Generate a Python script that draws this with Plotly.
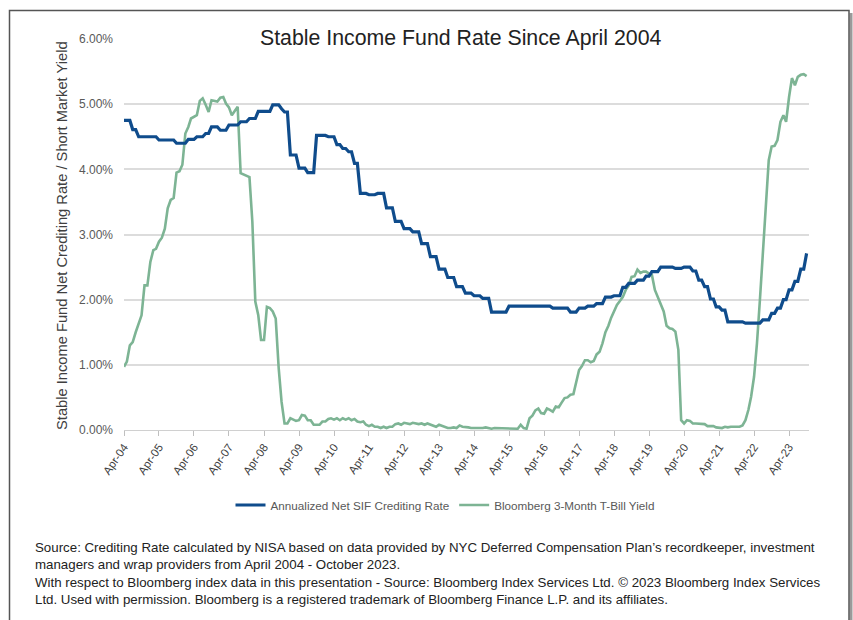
import pandas as pd
import plotly.graph_objects as go

# ---------------- data (monthly, Apr 2004 - Oct 2023) ----------------
start_month = "2004-04-01"

sif_crediting_rate = [
    4.75, 4.75, 4.75, 4.61, 4.61, 4.50, 4.50, 4.50, 4.50, 4.50, 4.50, 4.50,
    4.45, 4.45, 4.45, 4.45, 4.45, 4.45, 4.40, 4.40, 4.40, 4.40, 4.46, 4.46,
    4.46, 4.50, 4.50, 4.50, 4.55, 4.55, 4.65, 4.65, 4.65, 4.60, 4.60, 4.60,
    4.68, 4.68, 4.68, 4.68, 4.73, 4.73, 4.73, 4.78, 4.78, 4.78, 4.89, 4.89,
    4.89, 4.89, 4.89, 4.99, 4.99, 4.99, 4.93, 4.88, 4.88, 4.22, 4.22, 4.22,
    4.02, 4.02, 4.02, 3.95, 3.95, 3.95, 4.52, 4.52, 4.52, 4.52, 4.50, 4.50,
    4.50, 4.38, 4.38, 4.32, 4.32, 4.27, 4.27, 4.09, 4.09, 3.63, 3.63, 3.63,
    3.61, 3.61, 3.61, 3.63, 3.63, 3.63, 3.41, 3.41, 3.41, 3.20, 3.20, 3.20,
    3.09, 3.09, 3.09, 3.04, 3.04, 3.04, 2.86, 2.86, 2.86, 2.66, 2.66, 2.66,
    2.47, 2.47, 2.47, 2.34, 2.34, 2.34, 2.20, 2.20, 2.20, 2.10, 2.10, 2.10,
    2.06, 2.06, 2.06, 2.02, 2.02, 2.02, 1.81, 1.81, 1.81, 1.81, 1.81, 1.81,
    1.90, 1.90, 1.90, 1.90, 1.90, 1.90, 1.90, 1.90, 1.90, 1.90, 1.90, 1.90,
    1.90, 1.90, 1.90, 1.87, 1.87, 1.87, 1.87, 1.87, 1.87, 1.81, 1.81, 1.81,
    1.87, 1.87, 1.87, 1.90, 1.90, 1.90, 1.94, 1.94, 1.94, 2.04, 2.04, 2.04,
    2.06, 2.06, 2.06, 2.19, 2.19, 2.25, 2.25, 2.25, 2.30, 2.30, 2.30, 2.36,
    2.36, 2.43, 2.43, 2.43, 2.50, 2.50, 2.50, 2.50, 2.50, 2.48, 2.48, 2.48,
    2.50, 2.50, 2.50, 2.44, 2.44, 2.30, 2.30, 2.20, 2.20, 2.01, 2.01, 1.89,
    1.89, 1.84, 1.84, 1.66, 1.66, 1.66, 1.66, 1.66, 1.66, 1.64, 1.64, 1.64,
    1.64, 1.64, 1.64, 1.69, 1.69, 1.69, 1.79, 1.79, 1.87, 1.87, 2.00, 2.00,
    2.15, 2.15, 2.28, 2.28, 2.47, 2.47, 2.71,
]

tbill_3m_yield = [
    0.97, 1.05, 1.30, 1.35, 1.50, 1.62, 1.76, 2.22, 2.22, 2.58, 2.76, 2.78,
    2.89, 2.95, 3.09, 3.40, 3.53, 3.56, 3.95, 3.97, 4.07, 4.55, 4.65, 4.78,
    4.80, 4.83, 5.05, 5.09, 4.99, 4.88, 5.06, 5.05, 5.04, 5.10, 5.11, 5.01,
    4.95, 4.83, 4.90, 4.96, 3.94, 3.92, 3.89, 3.88, 3.20, 1.97, 1.76, 1.38,
    1.38, 1.89, 1.87, 1.82, 1.71, 0.95, 0.43, 0.10, 0.10, 0.18, 0.16, 0.14,
    0.15, 0.23, 0.22, 0.15, 0.15, 0.08, 0.08, 0.08, 0.13, 0.13, 0.17, 0.18,
    0.16, 0.18, 0.15, 0.18, 0.16, 0.18, 0.15, 0.17, 0.13, 0.12, 0.13, 0.08,
    0.06, 0.08, 0.05, 0.05, 0.03, 0.05, 0.03, 0.05, 0.05, 0.09, 0.10, 0.08,
    0.11, 0.10, 0.09, 0.11, 0.10, 0.09, 0.10, 0.08, 0.10, 0.08, 0.07, 0.05,
    0.08, 0.06, 0.05, 0.03, 0.03, 0.04, 0.03, 0.07, 0.05, 0.05, 0.04, 0.03,
    0.03, 0.03, 0.02, 0.03, 0.04, 0.03, 0.02, 0.03, 0.03, 0.02, 0.02, 0.02,
    0.02, 0.03, 0.02, 0.02, 0.08, 0.03, 0.02, 0.18, 0.22, 0.30, 0.33, 0.26,
    0.25, 0.33, 0.31, 0.28, 0.36, 0.35, 0.42, 0.49, 0.50, 0.54, 0.55, 0.72,
    0.92, 0.98, 1.07, 1.07, 1.04, 1.06, 1.16, 1.20, 1.33, 1.50, 1.60, 1.72,
    1.82, 1.92, 1.98, 2.04, 2.15, 2.22, 2.35, 2.36, 2.46, 2.41, 2.43, 2.43,
    2.40, 2.38, 2.15, 2.05, 1.94, 1.82, 1.60, 1.56, 1.55, 1.51, 1.23, 0.15,
    0.10, 0.15, 0.14, 0.10, 0.10, 0.10, 0.10, 0.09, 0.06, 0.06, 0.06, 0.04,
    0.03, 0.03, 0.05, 0.04, 0.05, 0.05, 0.05, 0.05, 0.07, 0.15, 0.31, 0.51,
    0.82, 1.33, 2.00, 2.71, 3.48, 4.14, 4.35, 4.36, 4.45, 4.73, 4.83, 4.73,
    5.11, 5.40, 5.29, 5.42, 5.45, 5.46, 5.43,
]

tick_dates = ["2004-04-01", "2005-04-01", "2006-04-01", "2007-04-01", "2008-04-01",
              "2009-04-01", "2010-04-01", "2011-04-01", "2012-04-01", "2013-04-01",
              "2014-04-01", "2015-04-01", "2016-04-01", "2017-04-01", "2018-04-01",
              "2019-04-01", "2020-04-01", "2021-04-01", "2022-04-01", "2023-04-01"]
tick_labels = ["Apr-04", "Apr-05", "Apr-06", "Apr-07", "Apr-08", "Apr-09", "Apr-10",
               "Apr-11", "Apr-12", "Apr-13", "Apr-14", "Apr-15", "Apr-16", "Apr-17",
               "Apr-18", "Apr-19", "Apr-20", "Apr-21", "Apr-22", "Apr-23"]

y_tick_values = [0, 1, 2, 3, 4, 5, 6]
y_tick_labels = ["0.00%", "1.00%", "2.00%", "3.00%", "4.00%", "5.00%", "6.00%"]

series_names = ["Annualized Net SIF Crediting Rate", "Bloomberg 3-Month T-Bill Yield"]

title_text = "Stable Income Fund Rate Since April 2004"
y_title_text = "Stable Income Fund Net Crediting Rate / Short Market Yield"
footer_text = (
    "Source: Crediting Rate calculated by NISA based on data provided by NYC Deferred "
    "Compensation Plan\u2019s recordkeeper, investment<br>"
    "managers and wrap providers from April 2004 - October 2023.<br>"
    "With respect to Bloomberg index data in this presentation - Source: Bloomberg Index "
    "Services Ltd. \u00a9 2023 Bloomberg Index Services<br>"
    "Ltd. Used with permission. Bloomberg is a registered trademark of Bloomberg Finance "
    "L.P. and its affiliates."
)

# ---------------- figure ----------------
dates = pd.date_range(start_month, periods=len(sif_crediting_rate), freq="MS")

W, H = 853, 620
L, R, T, B = 124, 809, 39, 430   # plot area in pixels


def px_x(p):
    return (p - L) / (R - L)


def px_y(p):
    return (B - p) / (B - T)


FONT = "Liberation Sans, Arial, sans-serif"

fig = go.Figure()
fig.add_trace(go.Scatter(
    x=dates, y=tbill_3m_yield, mode="lines", name=series_names[1],
    line=dict(color="#7db494", width=2.6),
))
fig.add_trace(go.Scatter(
    x=dates, y=sif_crediting_rate, mode="lines", name=series_names[0],
    line=dict(color="#0f4c8c", width=3.2),
))

fig.update_layout(
    width=W, height=H,
    margin=dict(l=L, r=W - R, t=T, b=H - B, autoexpand=False),
    paper_bgcolor="white", plot_bgcolor="white",
    font=dict(family=FONT, color="#404040"),
    showlegend=True,
    legend=dict(
        orientation="h", x=px_x(445), xanchor="center", y=px_y(505), yanchor="middle",
        font=dict(size=11.7, color="#595959", family=FONT),
        traceorder="reversed", itemwidth=30, bgcolor="rgba(0,0,0,0)",
    ),
    xaxis=dict(
        type="date", range=["2004-04-01", "2023-10-26"],
        tickvals=tick_dates, ticktext=tick_labels, tickangle=-55,
        tickfont=dict(size=11.5, color="#404040"),
        ticks="outside", ticklen=5, tickcolor="#bfbfbf", tickwidth=1,
        showgrid=False, showline=True, linecolor="#d0d0d0", linewidth=1,
        zeroline=False, fixedrange=True,
    ),
    yaxis=dict(
        range=[0, 6], tickvals=y_tick_values, ticktext=y_tick_labels,
        tickfont=dict(size=12, color="#595959"),
        showgrid=True, gridcolor="#dcdcdc", gridwidth=1.5,
        zeroline=False, showline=False, ticks="", ticklabelstandoff=10,
        fixedrange=True,
    ),
)

# title
fig.add_annotation(
    text=title_text, xref="paper", yref="paper", x=px_x(460.5), y=px_y(38),
    xanchor="center", yanchor="middle", showarrow=False,
    font=dict(size=21.3, color="#222222", family=FONT),
)
# y axis title
fig.add_annotation(
    text=y_title_text, xref="paper", yref="paper", x=px_x(62), y=px_y(236),
    xanchor="center", yanchor="middle", textangle=-90, showarrow=False,
    font=dict(size=14.7, color="#404040", family=FONT),
)
# footer
fig.add_annotation(
    text=footer_text, xref="paper", yref="paper", x=px_x(33), y=px_y(538),
    xanchor="left", yanchor="top", align="left", showarrow=False,
    font=dict(size=13.3, color="#222222", family=FONT),
)

# outer frame + shadow
fig.add_shape(type="line", xref="paper", yref="paper",
              x0=px_x(851), x1=px_x(851), y0=px_y(13), y1=px_y(625),
              line=dict(color="#9a9a9a", width=3), layer="below")
fig.add_shape(type="rect", xref="paper", yref="paper",
              x0=px_x(9.5), x1=px_x(849), y0=px_y(10.5), y1=px_y(640),
              line=dict(color="#555555", width=1.5), layer="below")

fig.write_html("out.html")
